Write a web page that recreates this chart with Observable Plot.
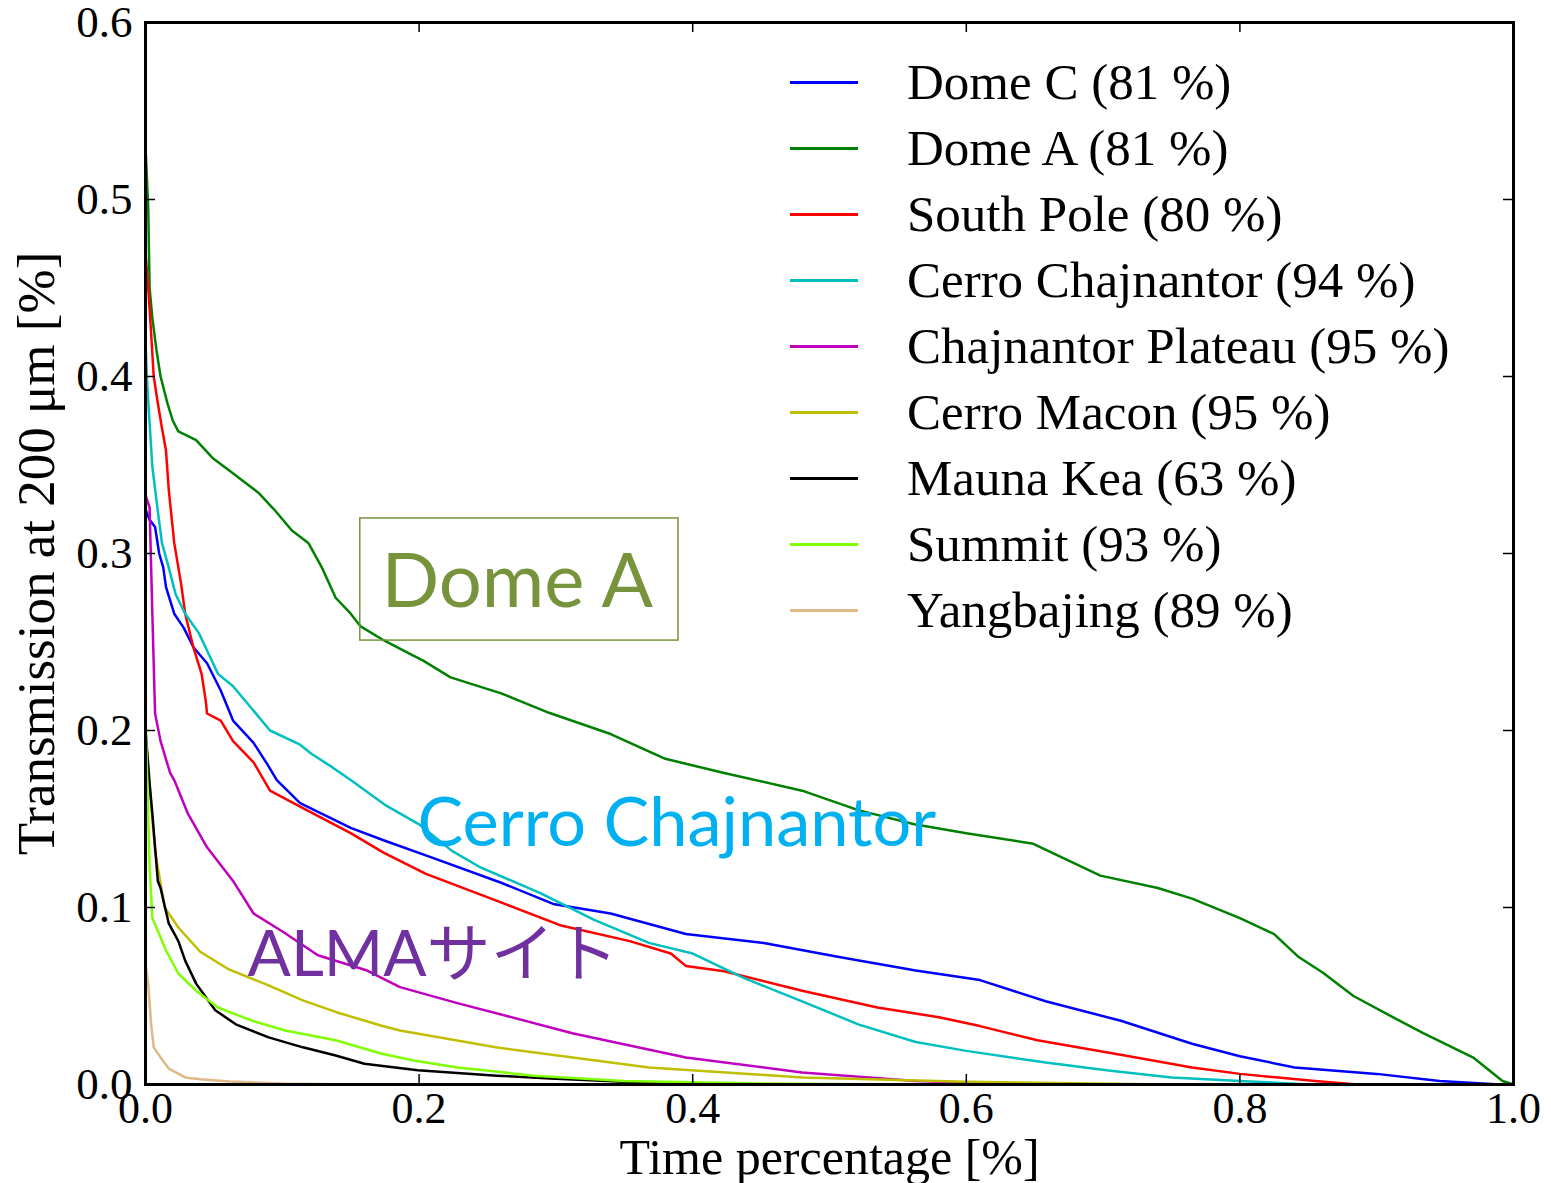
<!DOCTYPE html>
<html>
<head>
<meta charset="utf-8">
<script src="https://cdn.jsdelivr.net/npm/d3@7"></script>
<script src="https://cdn.jsdelivr.net/npm/@observablehq/plot@0.6"></script>
<style>
  html, body { margin: 0; padding: 0; background: #fff; }
  #wrap { position: relative; width: 1551px; height: 1183px; }
  #legend { position: absolute; left: 790px; top: 49px; font-family: "Liberation Serif", serif; font-size: 51px; color: #000; }
  #legend .row { display: flex; align-items: center; height: 66px; line-height: 66px; white-space: nowrap; }
  #legend .sw { width: 68px; height: 3px; margin-right: 49px; }
</style>
</head>
<body>
<div id="wrap"></div>
<script>
// Sites, their availability (%) and line colours
const sites = ["Dome C", "Dome A", "South Pole", "Cerro Chajnantor", "Chajnantor Plateau",
               "Cerro Macon", "Mauna Kea", "Summit", "Yangbajing"];
const availability = [81, 81, 80, 94, 95, 95, 63, 93, 89];
const colors = ["#0000ff", "#008000", "#ff0000", "#00bfbf", "#bf00bf",
                "#bfbf00", "#000000", "#7fff00", "#deb887"];

// Cumulative transmission curves: [time fraction, transmission]
const domeC = [[0,0.325],[0.003,0.319],[0.007,0.315],[0.010,0.300],[0.013,0.292],[0.015,0.281],[0.021,0.266],
  [0.028,0.258],[0.035,0.247],[0.045,0.238],[0.055,0.2226],[0.064,0.2056],[0.079,0.193],[0.089,0.181],[0.096,0.172],
  [0.113,0.159],[0.15,0.145],[0.174,0.138],[0.21,0.128],[0.26,0.114],[0.298,0.102],[0.34,0.0966],[0.395,0.085],
  [0.452,0.080],[0.507,0.072],[0.563,0.0644],[0.61,0.059],[0.658,0.047],[0.713,0.036],[0.765,0.023],[0.8,0.016],
  [0.84,0.0096],[0.9,0.006],[0.946,0.002],[0.99,0]];
const domeA = [[0,0.53],[0.002,0.495],[0.003,0.45],[0.005,0.433],[0.008,0.415],[0.011,0.40],[0.016,0.385],
  [0.020,0.375],[0.024,0.369],[0.037,0.364],[0.049,0.354],[0.061,0.347],[0.073,0.340],[0.083,0.334],[0.095,0.324],
  [0.107,0.313],[0.119,0.306],[0.129,0.292],[0.139,0.275],[0.150,0.266],[0.157,0.259],[0.174,0.251],[0.194,0.243],
  [0.203,0.2395],[0.223,0.230],[0.26,0.221],[0.295,0.21],[0.34,0.198],[0.38,0.184],[0.423,0.176],[0.48,0.166],
  [0.521,0.155],[0.562,0.147],[0.6,0.142],[0.649,0.136],[0.698,0.118],[0.74,0.111],[0.765,0.105],[0.8,0.094],
  [0.825,0.085],[0.843,0.072],[0.861,0.063],[0.883,0.050],[0.907,0.040],[0.934,0.029],[0.971,0.015],[0.992,0.002],[1.0,0]];
const southPole = [[0,0.47],[0.002,0.45],[0.004,0.426],[0.006,0.40],[0.009,0.385],[0.012,0.371],[0.015,0.358],
  [0.017,0.336],[0.021,0.306],[0.026,0.283],[0.029,0.266],[0.035,0.247],[0.041,0.232],[0.044,0.217],[0.045,0.2096],
  [0.055,0.2056],[0.064,0.194],[0.079,0.182],[0.091,0.166],[0.113,0.157],[0.15,0.142],[0.174,0.131],[0.205,0.119],
  [0.256,0.104],[0.303,0.090],[0.354,0.081],[0.384,0.074],[0.395,0.067],[0.423,0.064],[0.48,0.053],[0.535,0.0435],
  [0.58,0.038],[0.61,0.033],[0.652,0.025],[0.719,0.016],[0.765,0.0096],[0.8,0.006],[0.855,0.002],[0.886,0]];
const cerroChajnantor = [[0,0.42],[0.001,0.40],[0.002,0.386],[0.005,0.349],[0.009,0.324],[0.012,0.306],
  [0.017,0.292],[0.022,0.277],[0.029,0.266],[0.039,0.255],[0.046,0.2435],[0.053,0.232],[0.064,0.225],[0.077,0.213],
  [0.091,0.200],[0.113,0.192],[0.121,0.187],[0.137,0.179],[0.15,0.172],[0.175,0.158],[0.2,0.147],[0.224,0.132],
  [0.244,0.123],[0.289,0.108],[0.328,0.093],[0.368,0.080],[0.4,0.074],[0.438,0.060],[0.48,0.047],[0.521,0.034],
  [0.563,0.024],[0.6,0.019],[0.658,0.0124],[0.704,0.0079],[0.75,0.004],[0.8,0.002],[0.85,0]];
const chajnantorPlateau = [[0,0.333],[0.003,0.326],[0.005,0.266],[0.007,0.2096],[0.011,0.194],[0.018,0.176],
  [0.021,0.172],[0.031,0.153],[0.045,0.134],[0.064,0.115],[0.079,0.0966],[0.101,0.086],[0.126,0.073],[0.162,0.0644],
  [0.186,0.055],[0.228,0.046],[0.312,0.029],[0.395,0.0153],[0.48,0.0068],[0.563,0.002],[0.65,0]];
const cerroMacon = [[0,0.2],[0.003,0.17],[0.005,0.15],[0.007,0.132],[0.011,0.1136],[0.014,0.100],[0.024,0.0887],
  [0.040,0.075],[0.061,0.065],[0.09,0.056],[0.115,0.0475],[0.139,0.041],[0.172,0.0333],[0.186,0.0305],[0.256,0.021],
  [0.368,0.0096],[0.48,0.004],[0.6,0.0015],[0.75,0]];
const maunaKea = [[0,0.2],[0.003,0.17],[0.005,0.153],[0.009,0.115],[0.011,0.111],[0.017,0.091],[0.024,0.081],
  [0.029,0.070],[0.037,0.057],[0.051,0.042],[0.066,0.034],[0.09,0.0266],[0.115,0.021],[0.139,0.0164],[0.16,0.0117],
  [0.199,0.008],[0.257,0.005],[0.296,0.0034],[0.35,0.0015],[0.45,0]];
const summit = [[0,0.21],[0.002,0.15],[0.003,0.123],[0.005,0.094],[0.010,0.085],[0.015,0.0757],[0.024,0.0627],
  [0.037,0.053],[0.053,0.0435],[0.078,0.036],[0.102,0.0305],[0.139,0.025],[0.172,0.0175],[0.196,0.0136],
  [0.228,0.0096],[0.284,0.005],[0.35,0.002],[0.45,0.0005],[0.55,0]];
const yangbajing = [[0,0.068],[0.002,0.057],[0.004,0.035],[0.006,0.021],[0.011,0.0153],[0.017,0.009],
  [0.029,0.004],[0.040,0.003],[0.062,0.0017],[0.1,0.0005],[0.15,0]];

const curves = [domeC, domeA, southPole, cerroChajnantor, chajnantorPlateau, cerroMacon, maunaKea, summit, yangbajing];

// Axis ticks and titles
const xTicks = [0, 0.2, 0.4, 0.6, 0.8, 1.0];
const yTicks = [0, 0.1, 0.2, 0.3, 0.4, 0.5, 0.6];
const xTitle = "Time percentage [%]";
const yTitle = "Transmission at 200 μm [%]";

// Overlay annotations (data coordinates of their left edge / vertical middle)
const noteTexts = ["Dome A", "Cerro Chajnantor", "ALMAサイト"];
const noteX = [0.1725, 0.1988, 0.0746];
const noteY = [0.2836, 0.1469, 0.0729];
const domeABox = {x1: 0.157, x2: 0.3896, y1: 0.2508, y2: 0.3198};

const rows = curves.flatMap((c, i) => c.map(([t, v]) => ({site: sites[i], t, v})));
const notes = noteTexts.map((text, i) => ({text, x: noteX[i], y: noteY[i]}));

const W = 1551, H = 1183;
const mL = 145, mR = 38, mT = 22, mB = 99;
const frameW = W - mL - mR, frameH = H - mT - mB;
const tickLen = 10;
const noteColors = ["#77933C", "#00B0F0", "#7030A0"];
const noteSizes = [76, 68.5, 64];

const chart = Plot.plot({
  width: W, height: H,
  marginLeft: mL, marginRight: mR, marginTop: mT, marginBottom: mB,
  style: {fontFamily: "'Liberation Serif', serif", background: "#fff", color: "#000", overflow: "visible"},
  x: {domain: [0, 1]},
  y: {domain: [0, 0.6]},
  color: {domain: sites, range: colors},
  marks: [
    Plot.line(rows, {x: "t", y: "v", z: "site", stroke: "site", strokeWidth: 2.5, curve: "linear"}),
    // inward ticks on all four sides
    Plot.tickX(xTicks, {x: d => d, insetTop: frameH - tickLen, stroke: "#000", strokeWidth: 1.5}),
    Plot.tickX(xTicks, {x: d => d, insetBottom: frameH - tickLen, stroke: "#000", strokeWidth: 1.5}),
    Plot.tickY(yTicks, {y: d => d, insetRight: frameW - tickLen, stroke: "#000", strokeWidth: 1.5}),
    Plot.tickY(yTicks, {y: d => d, insetLeft: frameW - tickLen, stroke: "#000", strokeWidth: 1.5}),
    Plot.axisX(xTicks, {tickSize: 0, tickPadding: 7, tickFormat: d3.format(".1f"), fontSize: 44, label: null}),
    Plot.axisY(yTicks, {tickSize: 0, tickPadding: 13, tickFormat: d3.format(".1f"), fontSize: 45, label: null}),
    Plot.text([xTitle], {text: d => d, frameAnchor: "bottom", textAnchor: "middle", lineAnchor: "middle", dy: 73, fontSize: 50}),
    Plot.text([yTitle], {text: d => d, frameAnchor: "left", textAnchor: "middle", lineAnchor: "middle", rotate: -90, dx: -108, fontSize: 53}),
    Plot.frame({stroke: "#000", strokeWidth: 3}),
    // annotations
    Plot.rect([domeABox], {x1: "x1", x2: "x2", y1: "y1", y2: "y2", fill: "none", stroke: noteColors[0], strokeWidth: 1.5}),
    ...notes.map((n, i) => Plot.text([n], {
      x: "x", y: "y", text: "text", textAnchor: "start", lineAnchor: "middle",
      fill: noteColors[i], fontSize: noteSizes[i],
      fontFamily: "Lato, 'Noto Sans CJK JP', sans-serif"
    }))
  ]
});

const wrap = document.getElementById("wrap");
wrap.appendChild(chart);

// Legend inside the upper-right part of the frame
const legend = document.createElement("div");
legend.id = "legend";
sites.forEach((s, i) => {
  const row = document.createElement("div");
  row.className = "row";
  const sw = document.createElement("div");
  sw.className = "sw";
  sw.style.background = colors[i];
  const label = document.createElement("span");
  label.textContent = `${s} (${availability[i]} %)`;
  row.appendChild(sw);
  row.appendChild(label);
  legend.appendChild(row);
});
wrap.appendChild(legend);
</script>
</body>
</html>
